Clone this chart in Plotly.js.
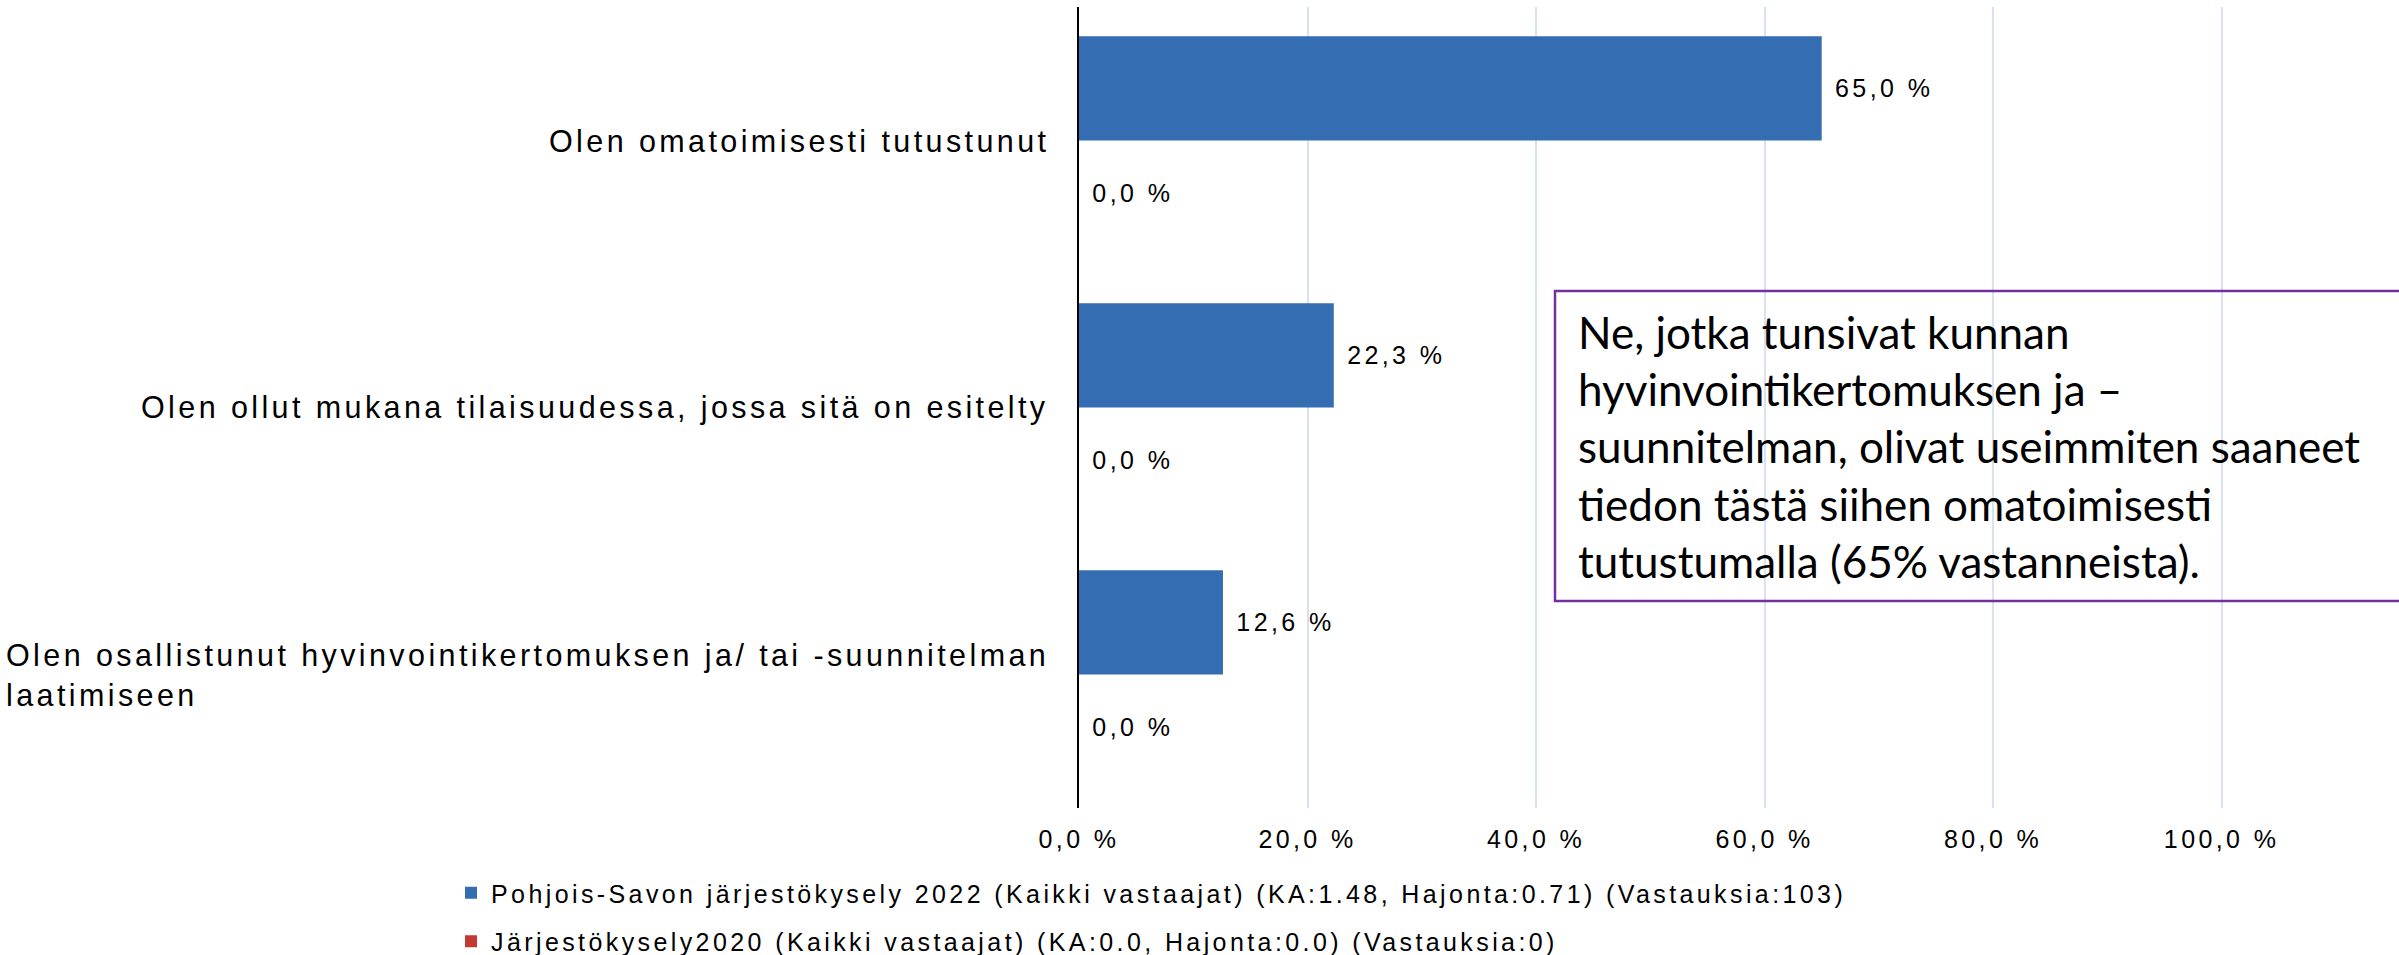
<!DOCTYPE html>
<html>
<head>
<meta charset="utf-8">
<script src="https://cdn.plot.ly/plotly-3.0.1.min.js"></script>
<style>
  html, body { margin: 0; padding: 0; background: #fff; }
  #chart { width: 2399px; height: 955px; }
  svg text { letter-spacing: 3.4px; }
  g.annotation[data-index="3"] text { letter-spacing: 0px; }
</style>
</head>
<body>
<div id="chart"></div>
<script>
// ---- data ----
const categories = [
  'Olen omatoimisesti tutustunut',
  'Olen ollut mukana tilaisuudessa, jossa sitä on esitelty',
  'Olen osallistunut hyvinvointikertomuksen ja/ tai -suunnitelman laatimiseen'
];
const categoryLabels = [
  'Olen omatoimisesti tutustunut',
  'Olen ollut mukana tilaisuudessa, jossa sitä on esitelty',
  'Olen osallistunut hyvinvointikertomuksen ja/ tai -suunnitelman<br>laatimiseen'
];
const values2022 = [65.0, 22.3, 12.6];
const values2020 = [0.0, 0.0, 0.0];
const seriesNames = [
  'Pohjois-Savon järjestökysely 2022 (Kaikki vastaajat) (KA:1.48, Hajonta:0.71) (Vastauksia:103)',
  'Järjestökysely2020 (Kaikki vastaajat) (KA:0.0, Hajonta:0.0) (Vastauksia:0)'
];
const tickValues = [0, 20, 40, 60, 80, 100];
const tickLabels = ['0,0 %', '20,0 %', '40,0 %', '60,0 %', '80,0 %', '100,0 %'];
const noteText = 'Ne, jotka tunsivat kunnan<br>hyvinvointikertomuksen ja –<br>suunnitelman, olivat useimmiten saaneet<br>tiedon tästä siihen omatoimisesti<br>tutustumalla (65% vastanneista).';

// ---- styling ----
const FONT = 'Liberation Sans, Arial, sans-serif';
const labelFont = { family: FONT, size: 25, color: '#000' };

function barTrace(name, vals, color, group) {
  return {
    type: 'bar', orientation: 'h',
    name: name, legendgroup: group,
    y: categories, x: vals,
    marker: { color: color, line: { width: 0 } },
    texttemplate: '\u00a0%{x:.1f} %',
    textposition: 'outside',
    textfont: labelFont,
    cliponaxis: false,
    constraintext: 'none',
    hoverinfo: 'skip'
  };
}

const traces = [
  barTrace(seriesNames[0], values2022, '#356db3', 'a'),
  barTrace(seriesNames[1], values2020, '#c23a31', 'b')
];

const annotations = categories.map((c, i) => ({
  xref: 'paper', yref: 'y', x: 0, y: c,
  xanchor: 'right', yanchor: 'middle', xshift: -28,
  align: 'left', showarrow: false,
  text: categoryLabels[i],
  font: { family: FONT, size: 30.5, color: '#000' }
}));
annotations.push({
  xref: 'paper', yref: 'paper',
  x: (1576 - 1079) / 1314, y: (808 - 446) / 801,
  xanchor: 'left', yanchor: 'middle', align: 'left',
  showarrow: false, text: noteText,
  font: { family: 'Lato, Open Sans, sans-serif', size: 44, color: '#000' }
});

const layout = {
  width: 2399, height: 955,
  margin: { l: 1079, r: 6, t: 7, b: 147, pad: 0, autoexpand: false },
  paper_bgcolor: '#fff', plot_bgcolor: '#fff',
  separators: ', ',
  barmode: 'group', bargap: 0.22, bargroupgap: 0,
  showlegend: true,
  legend: {
    orientation: 'v', x: (451 - 1079) / 1314, xanchor: 'left',
    y: (808 - 870) / 801, yanchor: 'top',
    traceorder: 'grouped', tracegroupgap: 13,
    font: labelFont, bgcolor: 'rgba(0,0,0,0)', borderwidth: 0
  },
  xaxis: {
    range: [0, 115], tickvals: tickValues, ticktext: tickLabels,
    showgrid: true, gridcolor: '#d8e2f0', gridwidth: 2,
    zeroline: false, showline: false, ticks: '',
    ticklabelstandoff: 14, tickfont: labelFont, fixedrange: true
  },
  yaxis: {
    type: 'category', autorange: 'reversed',
    showticklabels: false, showgrid: false, zeroline: false,
    showline: true, linecolor: '#000', linewidth: 2, ticks: '', fixedrange: true
  },
  shapes: [{
    type: 'rect', xref: 'paper', yref: 'paper',
    x0: (1555 - 1079) / 1314, x1: 1.06,
    y0: (808 - 601) / 801, y1: (808 - 291) / 801,
    line: { color: '#7030a0', width: 2.5 }, fillcolor: 'rgba(0,0,0,0)', layer: 'above'
  }],
  annotations: annotations
};

Plotly.newPlot('chart', traces, layout, { displayModeBar: false, staticPlot: true });
</script>
</body>
</html>
